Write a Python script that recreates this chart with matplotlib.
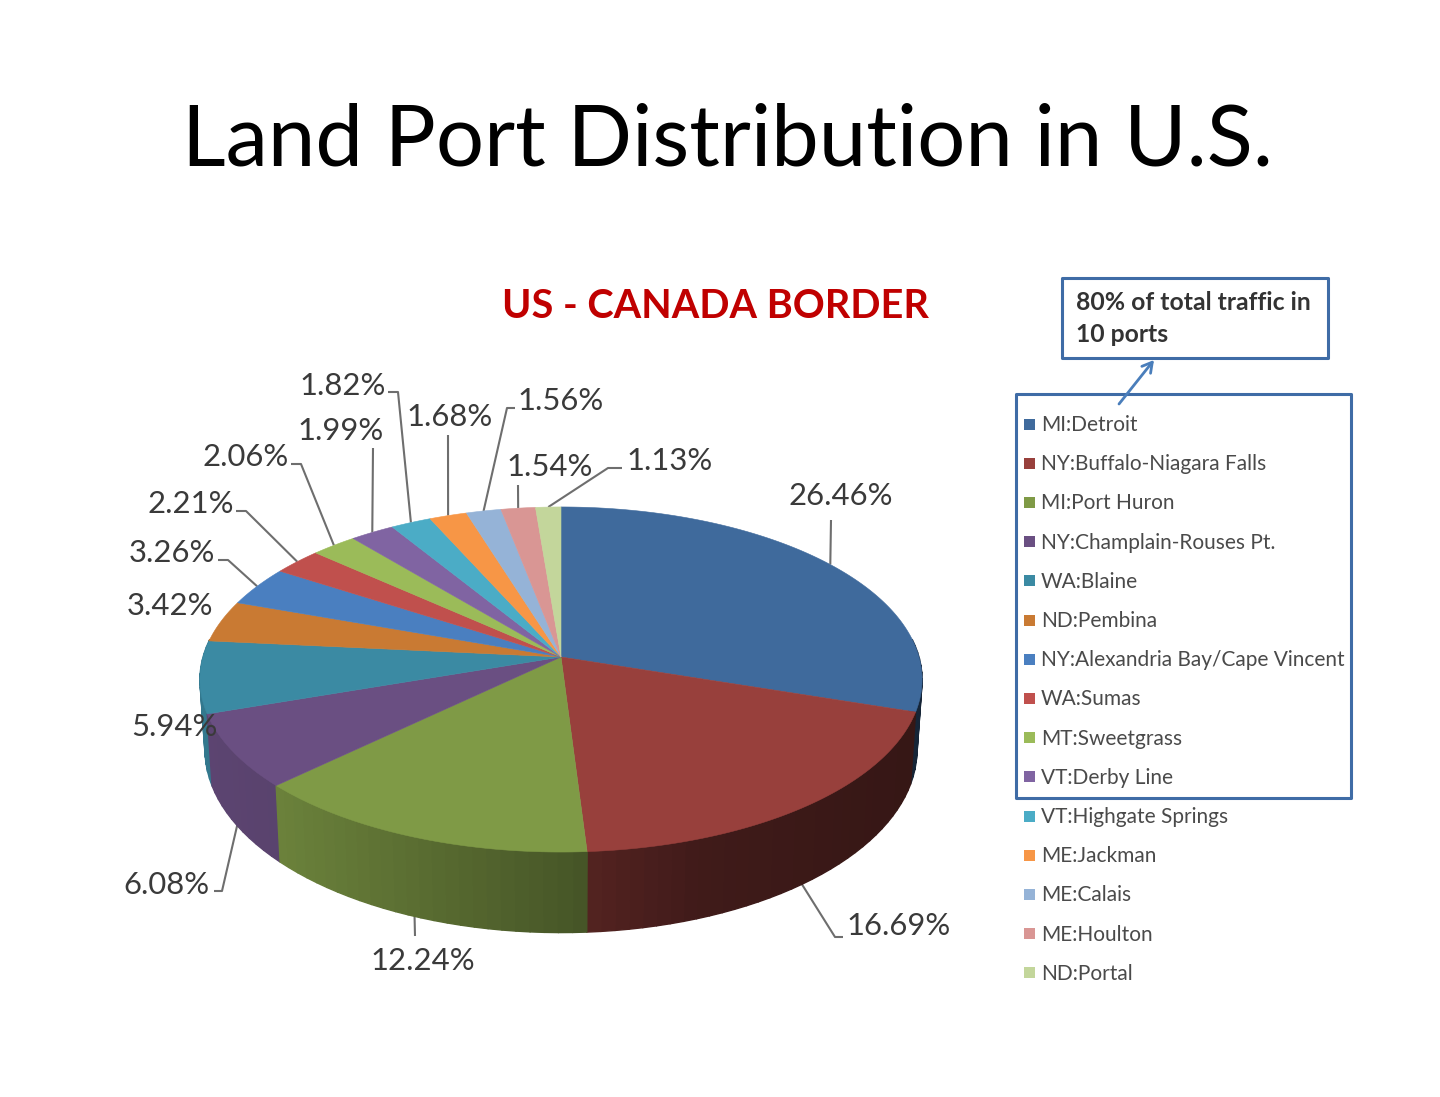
import numpy as np
import matplotlib
matplotlib.use("Agg")
import matplotlib.pyplot as plt
from matplotlib.patches import Polygon, Rectangle
from matplotlib.collections import PolyCollection
from matplotlib.colors import to_rgb

ports = ["MI:Detroit", "NY:Buffalo-Niagara Falls", "MI:Port Huron", "NY:Champlain-Rouses Pt.",
         "WA:Blaine", "ND:Pembina", "NY:Alexandria Bay/Cape Vincent", "WA:Sumas", "MT:Sweetgrass",
         "VT:Derby Line", "VT:Highgate Springs", "ME:Jackman", "ME:Calais", "ME:Houlton", "ND:Portal"]
shares = [26.46, 16.69, 12.24, 6.08, 5.94, 3.42, 3.26, 2.21, 2.06, 1.99, 1.82, 1.68, 1.56, 1.54, 1.13]
colors = ["#3f6a9c", "#98403c", "#7f9a46", "#6a4f82", "#3b8aa3", "#c97a33", "#4a7fc0", "#c0504d",
          "#9bbb59", "#8064a2", "#4bacc6", "#f79646", "#95b3d7", "#d99694", "#c3d69b"]
label_pos = [(841, 496), (846, 926), (423, 961), (166, 885), (174, 727), (170, 606), (172, 553), (191, 504),
             (246, 457), (341, 431), (343, 386), (450, 417), (561, 401), (550, 467), (670, 461)]
# leader waypoints from the label toward the rim (None = no leader); flag: end on lower rim
leaders = [([(831, 520)], False), ([(843, 937), (835, 937)], True), ([(415, 936)], True),
           ([(214, 891), (222, 891)], True), None, None, ([(218, 560), (228, 560)], False),
           ([(236, 511), (246, 511)], False), ([(291, 464), (301, 464)], False), ([(373, 448)], False),
           ([(388, 392), (398, 392)], False), ([(448, 435)], False), ([(515, 408), (507, 408)], False),
           ([(518, 485)], False), ([(622, 468), (608, 468)], False)]

FONT = "Lato"
CX, CY = 561, 657
K = 0.1304


def rim(theta, lower=False):
    u, v = np.sin(theta), np.cos(theta)
    d = 1 + K * v
    if lower:
        return CX + 353 * u / d, CY - (180 * v / d - 68.6)
    return CX + 358 * u / d, CY - 169.6 * v / d


def shade(x):
    return np.interp(x, [200, 280, 585, 700, 922], [0.87, 0.84, 0.55, 0.42, 0.35])


fig = plt.figure(figsize=(14.4, 10.97), dpi=100, facecolor="white")
ax = fig.add_axes([0, 0, 1, 1])
ax.set_xlim(0, 1440)
ax.set_ylim(1097, 0)
ax.axis("off")

total = sum(shares)
edges = 2 * np.pi * np.cumsum([0] + shares) / total
WALL_FROM, WALL_TO = np.radians(84), np.radians(276)

# side wall: front and flanks only
quads, quad_cols, depth = [], [], []
for i, c in enumerate(colors):
    lo, hi = max(edges[i], WALL_FROM), min(edges[i + 1], WALL_TO)
    if hi <= lo:
        continue
    ts = np.linspace(lo, hi, max(3, int((hi - lo) * 30)))
    base = np.array(to_rgb(c))
    for a, b in zip(ts[:-1], ts[1:]):
        xa, ya = rim(a)
        xb, yb = rim(b)
        xc, yc = rim(b, True)
        xd, yd = rim(a, True)
        quads.append([(xa, ya), (xb, yb), (xc, yc), (xd, yd)])
        quad_cols.append(tuple(base * shade((xa + xb) / 2)))
        depth.append(-np.cos((a + b) / 2))
order = np.argsort(depth)
ax.add_collection(PolyCollection([quads[j] for j in order], facecolors=[quad_cols[j] for j in order],
                                 edgecolors=[quad_cols[j] for j in order], linewidths=1.0, zorder=2))

# top face
for i, c in enumerate(colors):
    ts = np.linspace(edges[i], edges[i + 1], max(6, int(shares[i] * 10)))
    pts = [(CX, CY)] + [rim(t) for t in ts]
    ax.add_patch(Polygon(pts, closed=True, facecolor=c, edgecolor=c, linewidth=0.4, zorder=3))

# data labels and leaders
for i, s in enumerate(shares):
    ha = "left" if i == 1 else "center"
    x, y = label_pos[i]
    ax.text(x, y, f"{s:.2f}%", fontsize=22.3, family=FONT, color="#3a3a3a", ha=ha, va="center", zorder=6)
    if leaders[i] is not None:
        way, lower = leaders[i]
        mid = (edges[i] + edges[i + 1]) / 2
        pts = way + [rim(mid, lower)]
        ax.plot([p[0] for p in pts], [p[1] for p in pts], color="#6e6e6e", lw=1.5, zorder=1.5,
                solid_capstyle="butt", solid_joinstyle="round")

ax.text(727, 141, "Land Port Distribution in U.S.", fontsize=61.2, family=FONT, color="black",
        ha="center", va="center", zorder=6)
ax.text(715, 306, "US - CANADA BORDER", fontsize=28.5, family=FONT, fontweight="bold", color="#c00000",
        ha="center", va="center", zorder=6)

BOX = "#3f6ca6"
ax.add_patch(Rectangle((1062, 278), 266, 80, facecolor="white", edgecolor=BOX, lw=2.2, joinstyle="round", zorder=4))
ax.add_patch(Rectangle((1016, 394), 335, 404, facecolor="white", edgecolor=BOX, lw=2.2, joinstyle="round", zorder=4))
ax.text(1076, 303, "80% of total traffic in", fontsize=17.8, family=FONT, fontweight="bold", color="#333333",
        va="center", zorder=6)
ax.text(1076, 335, "10 ports", fontsize=17.8, family=FONT, fontweight="bold", color="#333333",
        va="center", zorder=6)
ax.annotate("", xy=(1154, 360), xytext=(1119, 404),
            arrowprops=dict(arrowstyle="->,head_length=0.7,head_width=0.4", color="#4a7ebb", lw=2.0,
                            shrinkA=0, shrinkB=0), zorder=5)

# legend
for i, (p, c) in enumerate(zip(ports, colors)):
    y = 424 + i * 39.2
    ax.add_patch(Rectangle((1024, y - 5.5), 11, 11, facecolor=c, edgecolor="none", zorder=6))
    ax.text(1041, y + 1, p, fontsize=15, family=FONT, color="#4a4a4a", va="center", zorder=6)

fig.savefig("out.png", dpi=100, facecolor="white")
